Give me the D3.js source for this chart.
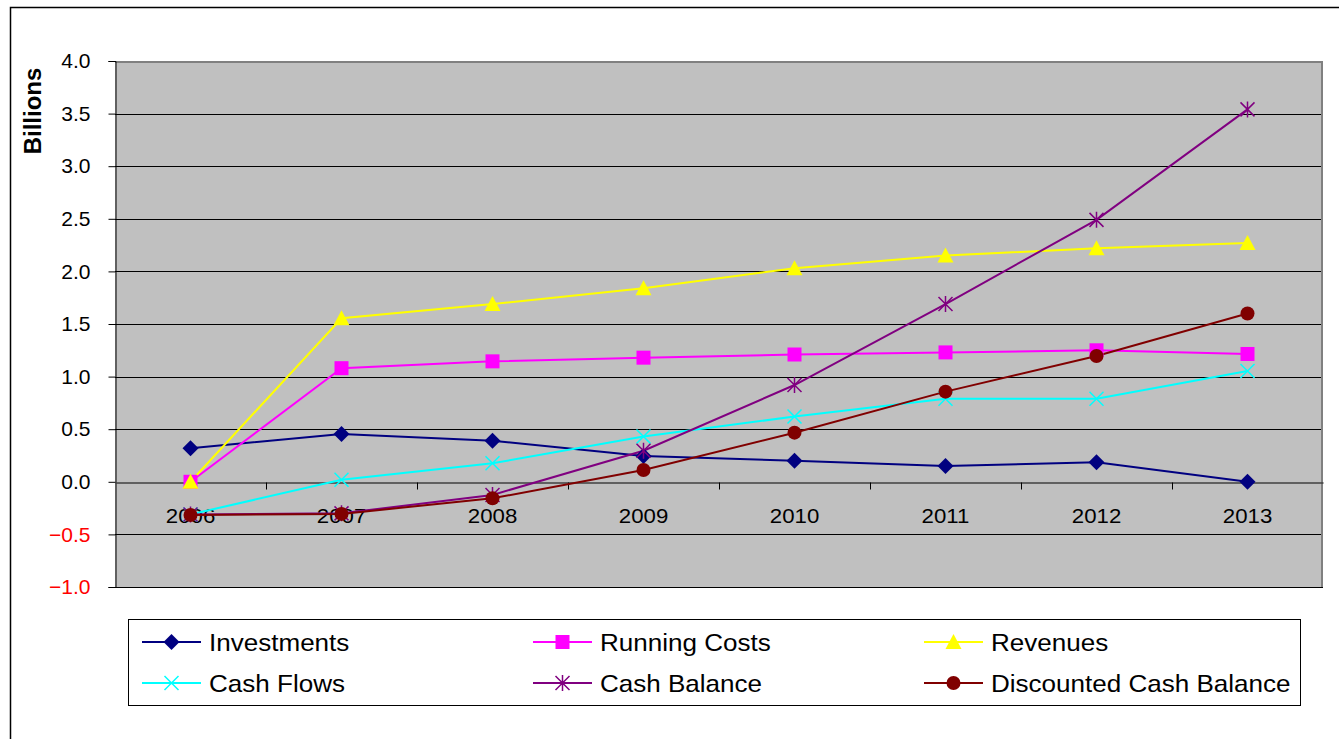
<!DOCTYPE html>
<html>
<head>
<meta charset="utf-8">
<script src="https://cdn.jsdelivr.net/npm/d3@7"></script>
<style>
  html, body { margin: 0; padding: 0; background: #ffffff; }
  svg { display: block; font-family: "Liberation Sans", Arial, sans-serif; }
</style>
</head>
<body>
<svg id="chart" width="1339" height="739"></svg>
<script>
// Years on the category axis
const years = ["2006", "2007", "2008", "2009", "2010", "2011", "2012", "2013"];

// Values in billions
const investments      = [0.32, 0.455, 0.39, 0.245, 0.20, 0.15, 0.185, 0.00];
const runningCosts     = [0.00, 1.08, 1.145, 1.18, 1.21, 1.23, 1.25, 1.215];
const revenues         = [0.00, 1.555, 1.69, 1.84, 2.03, 2.15, 2.22, 2.27];
const cashFlows        = [-0.31, 0.02, 0.176, 0.43, 0.62, 0.79, 0.79, 1.053];
const cashBalance      = [-0.31, -0.30, -0.125, 0.295, 0.92, 1.69, 2.49, 3.54];
const discountedCash   = [-0.315, -0.305, -0.157, 0.112, 0.467, 0.857, 1.196, 1.60];

const yTicks = [-1.0, -0.5, 0.0, 0.5, 1.0, 1.5, 2.0, 2.5, 3.0, 3.5, 4.0];

const seriesNames  = ["Investments", "Running Costs", "Revenues", "Cash Flows", "Cash Balance", "Discounted Cash Balance"];
const seriesColors = ["#000080", "#FF00FF", "#FFFF00", "#00FFFF", "#800080", "#800000"];
const seriesMarks  = ["diamond", "square", "triangle", "x", "star", "circle"];
const seriesValues = [investments, runningCosts, revenues, cashFlows, cashBalance, discountedCash];

const series = seriesNames.map((name, i) => ({
  name, color: seriesColors[i], mark: seriesMarks[i], values: seriesValues[i]
}));

const svg = d3.select("#chart");

// Outer chart frame
svg.append("rect")
  .attr("x", 10.5).attr("y", 7.5)
  .attr("width", 1340).attr("height", 740)
  .attr("fill", "#ffffff").attr("stroke", "#000000").attr("stroke-width", 1.5);

const plot = { left: 115, right: 1323, top: 61, bottom: 587 };

const x = d3.scaleBand().domain(years).range([plot.left, plot.right]).padding(0);
const y = d3.scaleLinear().domain([-1, 4]).range([plot.bottom, plot.top]);
const cx = d => x(d) + x.bandwidth() / 2;

// Plot background
svg.append("rect")
  .attr("x", plot.left).attr("y", plot.top)
  .attr("width", plot.right - plot.left).attr("height", plot.bottom - plot.top)
  .attr("fill", "#C0C0C0");

// Horizontal gridlines
svg.append("g").selectAll("line")
  .data(yTicks.filter(t => t !== 0 && t !== 4))
  .join("line")
  .attr("x1", plot.left).attr("x2", plot.right)
  .attr("y1", d => Math.round(y(d)) + 0.5).attr("y2", d => Math.round(y(d)) + 0.5)
  .attr("stroke", "#000000").attr("stroke-width", 1);

// Plot frame: grey top and right edges
svg.append("path")
  .attr("d", `M${plot.left},${plot.top + 1}H${plot.right - 1}V${plot.bottom}`)
  .attr("fill", "none").attr("stroke", "#808080").attr("stroke-width", 2);

// Y axis
const yAxis = d3.axisLeft(y).tickValues(yTicks).tickFormat(d3.format(".1f")).tickSize(7).tickPadding(18);
const gy = svg.append("g").attr("transform", `translate(${plot.left + 0.5},0)`).call(yAxis);
gy.select(".domain").attr("stroke", "#000000");
gy.selectAll(".tick line").attr("stroke", "#000000");
gy.selectAll(".tick text")
  .attr("font-size", 21)
  .attr("font-family", "'Liberation Sans', Arial, sans-serif")
  .attr("fill", d => d < 0 ? "#FF0000" : "#000000");

// X axis along zero
const xAxis = d3.axisBottom(x).tickSize(0).tickFormat("");
const gx = svg.append("g").attr("transform", `translate(0,${Math.round(y(0)) + 0.5})`).call(xAxis);
gx.select(".domain").attr("stroke", "#404040").attr("stroke-width", 1.5);
gx.selectAll(".tick").remove();
// tick marks between categories
gx.selectAll(".cat-tick")
  .data(years.slice(1))
  .join("line")
  .attr("class", "cat-tick")
  .attr("x1", d => Math.round(x(d)) + 0.5).attr("x2", d => Math.round(x(d)) + 0.5)
  .attr("y1", 0).attr("y2", 7)
  .attr("stroke", "#000000");

// Year labels
svg.append("g").selectAll("text")
  .data(years)
  .join("text")
  .attr("transform", d => `translate(${cx(d)},523) scale(1.06,1)`)
  .attr("text-anchor", "middle")
  .attr("font-size", 21)
  .attr("fill", "#000000")
  .text(d => d);

// Axis title
svg.append("text")
  .attr("transform", "translate(41,111) rotate(-90)")
  .attr("text-anchor", "middle")
  .attr("font-size", 24)
  .attr("font-weight", "bold")
  .attr("fill", "#000000")
  .text("Billions");

// Marker drawing
function drawMarker(g, mark, color) {
  switch (mark) {
    case "diamond":
      g.append("path").attr("d", "M0,-8L8,0L0,8L-8,0Z").attr("fill", color);
      break;
    case "square":
      g.append("rect").attr("x", -7).attr("y", -7).attr("width", 14).attr("height", 14).attr("fill", color);
      break;
    case "triangle":
      g.append("path").attr("d", "M0,-8L8,7L-8,7Z").attr("fill", color);
      break;
    case "x":
      g.append("path").attr("d", "M-7,-7L7,7M-7,7L7,-7").attr("stroke", color).attr("stroke-width", 1.5).attr("fill", "none");
      break;
    case "star":
      g.append("path").attr("d", "M-7,-7L7,7M-7,7L7,-7M0,-8V8").attr("stroke", color).attr("stroke-width", 1.5).attr("fill", "none");
      break;
    case "circle":
      g.append("circle").attr("r", 7).attr("fill", color);
      break;
  }
}

const line = d3.line().x((d, i) => cx(years[i])).y(d => y(d));

// Lines, in drawing order
series.forEach(s => {
  svg.append("path")
    .datum(s.values)
    .attr("d", line)
    .attr("fill", "none")
    .attr("stroke", s.color)
    .attr("stroke-width", 2);
});

// Markers on top
series.forEach(s => {
  const gm = svg.append("g");
  s.values.forEach((v, i) => {
    const g = gm.append("g").attr("transform", `translate(${cx(years[i])},${y(v)})`);
    drawMarker(g, s.mark, s.color);
  });
});

// Legend
svg.append("rect")
  .attr("x", 128.5).attr("y", 619.5)
  .attr("width", 1172).attr("height", 86)
  .attr("fill", "#ffffff").attr("stroke", "#000000").attr("stroke-width", 1);

const legendCols = [142, 533, 924];
const legendRows = [642, 683];
series.forEach((s, i) => {
  const lx = legendCols[i % 3];
  const ly = legendRows[Math.floor(i / 3)];
  const g = svg.append("g").attr("transform", `translate(${lx},${ly})`);
  g.append("line").attr("x1", 0).attr("x2", 59).attr("y1", 0).attr("y2", 0)
    .attr("stroke", s.color).attr("stroke-width", 2);
  const gm = g.append("g").attr("transform", "translate(29.5,0)");
  drawMarker(gm, s.mark, s.color);
  g.append("text")
    .attr("transform", "translate(67,0) scale(1.085,1)")
    .attr("dy", "0.36em")
    .attr("font-size", 24)
    .attr("fill", "#000000")
    .text(s.name);
});
</script>
</body>
</html>
